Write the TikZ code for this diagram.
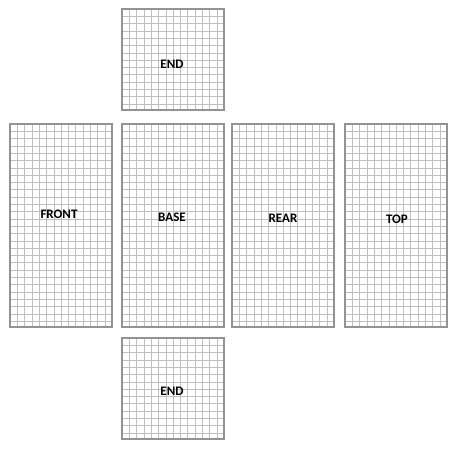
\documentclass[tikz,border=0pt]{standalone}
\usepackage{fontspec}
\setmainfont{Carlito}

\begin{document}
\begin{tikzpicture}[x=1pt, y=1pt,
    gridline/.style={color=gray!50, line width=0.5pt},
    edge/.style={draw=gray!85, line width=1.2pt},
    panel/.style={inner sep=0pt, outer sep=0pt},
    endpanel/.style={panel, minimum width=102, minimum height=101},
    longpanel/.style={panel, minimum width=102, minimum height=203},
    tag/.style={font=\fontsize{13}{15}\selectfont\bfseries, inner sep=1pt}]
        \useasboundingbox (0,0) rectangle (461,453);
        % end pieces
        \node [endpanel] (endtop) at (173,393.5) {};
        \node [endpanel] (endbot) at (173,64.5) {};
        % long row
        \foreach \n/\x in {front/61, base/173, rear/283, top/396}
          \node [longpanel] (\n) at (\x,227.5) {};
        % squared paper
        \foreach \n in {endtop, endbot, front, base, rear, top} {
          \begin{scope}
            \clip (\n.south west) rectangle (\n.north east);
            \draw [gridline, shift={(\n.north west)}] (0,-220) grid[step=7.3pt] (120,0);
          \end{scope}
          \draw [edge] (\n.south west) rectangle (\n.north east);
        }
        % names
        \node [tag] (endtop-tag) at (172,389) {END};
        \node [tag] (endbot-tag) at (172,62) {END};
        \foreach \n/\x/\y/\l in {front/59/239/FRONT, base/172/236/BASE, rear/283/235/REAR, top/397/234/TOP}
          \node [tag] (\n-tag) at (\x,\y) {\l};
    \end{tikzpicture}
\end{document}
